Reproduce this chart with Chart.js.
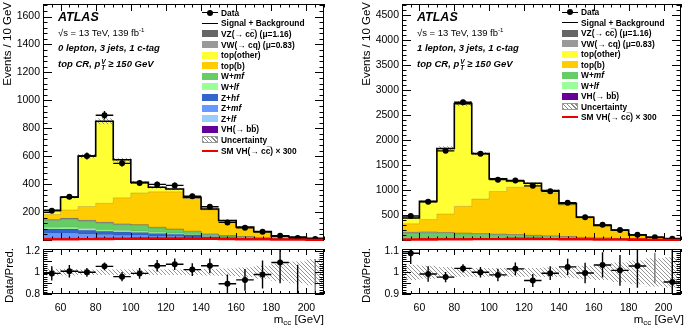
<!DOCTYPE html>
<html>
<head>
<meta charset="utf-8">
<script src="https://cdn.jsdelivr.net/npm/chart.js@4.4.1/dist/chart.umd.min.js"></script>
<style>
body { margin: 0; background: #fff; font-family: "Liberation Sans", Arial, sans-serif; }
#wrap { position: relative; width: 685px; height: 329px; overflow: hidden; }
canvas { position: absolute; }
.t { position: absolute; white-space: nowrap; color: #000; line-height: 1; }
.atlas { font-weight: bold; font-style: italic; font-size: 12.5px; }
.info { font-size: 9.5px; }
.cut { font-size: 9.5px; font-weight: bold; font-style: italic; }
.rot { position: absolute; transform: rotate(-90deg); transform-origin: 0 0; text-align: right;
       font-size: 11.5px; line-height: 12px; white-space: nowrap; }
.xt { font-size: 11.5px; }
sup { font-size: 65%; vertical-align: 4px; line-height: 0; }
sub { font-size: 70%; vertical-align: -2px; line-height: 0; }
.ss { display: inline-block; font-size: 6.5px; line-height: 6px; vertical-align: -3px; margin-left: 1px; }
.ss span { display: block; }
.lg { position: absolute; font-size: 8.4px; font-weight: bold; line-height: 10px; white-space: nowrap; }
</style>
</head>
<body>
<div id="wrap">
  <canvas id="l0main" width="330" height="245" style="left:0;top:0"></canvas>
  <canvas id="l0ratio" width="330" height="84" style="left:0;top:245px"></canvas>
  <canvas id="l1main" width="340" height="245" style="left:345px;top:0"></canvas>
  <canvas id="l1ratio" width="340" height="84" style="left:345px;top:245px"></canvas>

  <div class="t atlas" style="left:58px;top:10.5px">ATLAS</div>
  <div class="t info" style="left:58px;top:28px">√s = 13 TeV, 139 fb<sup>-1</sup></div>
  <div class="t cut" style="left:58px;top:43px">0 lepton, 3 jets, 1 c-tag</div>
  <div class="t cut" style="left:58px;top:58.5px">top CR, <i>p</i><span class="ss"><span>V</span><span>T</span></span> ≥ 150 GeV</div>

  <div class="t atlas" style="left:417px;top:10.5px">ATLAS</div>
  <div class="t info" style="left:417px;top:28px">√s = 13 TeV, 139 fb<sup>-1</sup></div>
  <div class="t cut" style="left:417px;top:43px">1 lepton, 3 jets, 1 c-tag</div>
  <div class="t cut" style="left:417px;top:58.5px">top CR, <i>p</i><span class="ss"><span>V</span><span>T</span></span> ≥ 150 GeV</div>

  <div class="rot" style="left:1px;top:122px;width:120px">Events / 10 GeV</div>
  <div class="rot" style="left:2.5px;top:328px;width:80px">Data/Pred.</div>
  <div class="rot" style="left:360px;top:122px;width:120px">Events / 10 GeV</div>
  <div class="rot" style="left:359.5px;top:328px;width:80px">Data/Pred.</div>

  <div class="t xt" style="right:361px;top:314px">m<sub>cc</sub> [GeV]</div>
  <div class="t xt" style="right:1px;top:314px">m<sub>cc</sub> [GeV]</div>
</div>

<script>
// bin edges of m_cc and axis ticks
const edges = [50, 60, 70, 80, 90, 100, 110, 120, 130, 140, 150, 160, 170, 180, 190, 200, 210];
const xTicks = [60, 80, 100, 120, 140, 160, 180, 200];

// 0 lepton, 3 jets, 1 c-tag, top CR
const l0Data    = [210, 309, 601, 893, 549, 409, 398, 391, 313, 238, 126, 87, 59, 31, 14, 7];
const l0DataErr = [14, 18, 25, 30, 23, 20, 20, 20, 18, 15, 11, 9, 8, 6, 4, 3];
const l0VHbb = [1, 1, 1, 1, 1, 1, 1, 1, 1, 1, 0, 0, 0, 0, 0, 0];
const l0Zlf  = [12, 12, 10, 9, 8, 8, 7, 6, 5, 3, 3, 2, 2, 1, 1, 0];
const l0Zmf  = [35, 35, 31, 28, 26, 24, 21, 18, 15, 10, 8, 7, 5, 4, 2, 1];
const l0Zhf  = [30, 30, 28, 25, 23, 21, 18, 17, 14, 9, 8, 6, 4, 3, 2, 2];
const l0Wlf  = [12, 13, 12, 11, 10, 9, 8, 7, 5, 4, 3, 2, 1, 1, 1, 0];
const l0Wmf  = [50, 59, 54, 48, 42, 42, 32, 26, 20, 13, 8, 6, 4, 3, 2, 2];
const l0VW   = [3, 3, 3, 3, 3, 3, 3, 2, 2, 2, 1, 1, 1, 1, 0, 0];
const l0VZ   = [2, 2, 2, 2, 2, 2, 2, 2, 1, 1, 1, 1, 0, 0, 0, 0];
const l0Topb = [37, 60, 99, 136, 187, 227, 253, 266, 235, 172, 103, 63, 40, 13, 10, 5];
const l0Topo = [30, 91, 361, 587, 273, 76, 33, 20, 7, 7, 5, 5, 3, 2, 4, 2];
const l0Sig  = [4, 5, 6, 7, 8, 9, 10, 10, 9, 8, 6, 5, 4, 3, 2, 1];
const l0Unc  = [0.03, 0.03, 0.025, 0.025, 0.025, 0.025, 0.025, 0.025, 0.025, 0.03, 0.035, 0.045, 0.06, 0.08, 0.1, 0.12];
const l0Ratio    = [0.99, 1.01, 1.0, 1.055, 0.96, 0.99, 1.06, 1.075, 1.025, 1.06, 0.895, 0.93, 0.98, 1.09, 0.6, 0.55];
const l0RatioErr = [0.066, 0.057, 0.04, 0.035, 0.043, 0.05, 0.053, 0.053, 0.058, 0.068, 0.085, 0.1, 0.13, 0.19, 0.47, 0.57];
const l0Faint    = [0, 0, 0, 0, 0, 0, 0, 0, 0, 0, 0, 0, 0, 0, 0, 1];
const l0YTicks = [200, 400, 600, 800, 1000, 1200, 1400, 1600];
const l0RTicks = [0.8, 0.9, 1, 1.1, 1.2];

// 1 lepton, 3 jets, 1 c-tag, top CR
const l1Data    = [480, 767, 1787, 2760, 1730, 1210, 1195, 1085, 978, 748, 456, 304, 198, 105, 54, 26];
const l1DataErr = [22, 28, 42, 52, 42, 35, 35, 33, 31, 27, 21, 17, 14, 10, 7, 5];
const l1VHbb = [3, 3, 3, 3, 3, 3, 3, 2, 2, 2, 1, 1, 1, 0, 0, 0];
const l1Wlf  = [25, 25, 23, 21, 19, 17, 15, 13, 11, 9, 7, 5, 4, 3, 2, 1];
const l1Wmf  = [110, 115, 108, 100, 92, 85, 78, 70, 60, 50, 40, 30, 22, 16, 10, 6];
const l1VW   = [12, 13, 12, 11, 10, 9, 8, 7, 6, 5, 4, 3, 2, 2, 1, 1];
const l1VZ   = [6, 6, 6, 6, 5, 5, 4, 4, 3, 3, 2, 2, 1, 1, 1, 0];
const l1Topb = [169, 248, 368, 534, 691, 853, 950, 978, 864, 631, 386, 244, 162, 76, 38, 17];
const l1Topo = [117, 365, 1313, 2058, 915, 253, 124, 63, 46, 30, 17, 9, 5, 4, 4, 2];
const l1Sig  = [8, 10, 12, 14, 16, 18, 20, 20, 18, 15, 12, 9, 7, 5, 3, 2];
const l1Unc  = [0.035, 0.03, 0.025, 0.02, 0.02, 0.02, 0.02, 0.02, 0.022, 0.025, 0.03, 0.035, 0.045, 0.055, 0.065, 0.07];
const l1Ratio    = [1.088, 0.992, 0.978, 1.018, 1.0, 0.988, 1.016, 0.962, 0.996, 1.025, 0.997, 1.034, 1.009, 1.029, 1.02, 0.955];
const l1RatioErr = [0.05, 0.036, 0.024, 0.019, 0.024, 0.029, 0.029, 0.03, 0.032, 0.037, 0.047, 0.058, 0.071, 0.1, 0.07, 0.25];
const l1Faint    = [0, 0, 0, 0, 0, 0, 0, 0, 0, 0, 0, 0, 0, 0, 1, 0];
const l1YTicks = [500, 1000, 1500, 2000, 2500, 3000, 3500, 4000, 4500];
const l1RTicks = [0.9, 0.95, 1, 1.05, 1.1];

const colors = {
  VZ: '#666666', VW: '#999999', topo: '#ffff33', topb: '#ffcc00',
  Wmf: '#66cc66', Wlf: '#99ff99', Zhf: '#3366cc', Zmf: '#6699ff', Zlf: '#99ccff',
  VHbb: '#660099', sig: '#ee0000', hatch: '#8a8a8a'
};
const labels = {
  VZ: 'VZ(→ cc&#773;) (μ=1.16)', VW: 'VW(→ cq) (μ=0.83)', topo: 'top(other)', topb: 'top(b)',
  Wmf: 'W+<i>mf</i>', Wlf: 'W+<i>lf</i>', Zhf: 'Z+<i>hf</i>', Zmf: 'Z+<i>mf</i>', Zlf: 'Z+<i>lf</i>',
  VHbb: 'VH(→ bb&#773;)'
};
const FONT = "'Liberation Sans', Arial, sans-serif";
Chart.defaults.font.family = FONT;
Chart.defaults.color = '#000';

const hatch = (() => {
  const c = document.createElement('canvas');
  c.width = 4; c.height = 4;
  const g = c.getContext('2d');
  g.strokeStyle = colors.hatch; g.lineWidth = 0.9;
  g.beginPath();
  g.moveTo(-1, -1); g.lineTo(5, 5);
  g.moveTo(-1, 3); g.lineTo(1, 5);
  g.moveTo(3, -1); g.lineTo(5, 1);
  g.stroke();
  return g.createPattern(c, 'repeat');
})();

// histogram outline: value of bin i held from edge i to edge i+1
function steps(vals) {
  return edges.map((e, i) => ({ x: e, y: vals[Math.max(i - 1, 0)] }));
}
function centers(vals) {
  return vals.map((v, i) => ({ x: (edges[i] + edges[i + 1]) / 2, y: v }));
}

// inward ROOT-style ticks and frame
const rootFrame = {
  id: 'rootFrame',
  afterDraw(chart, args, o) {
    const { ctx, chartArea: a, scales: { x, y } } = chart;
    ctx.save();
    ctx.strokeStyle = '#000';
    ctx.lineWidth = 1;
    ctx.beginPath();
    const nx = Math.round(o.xMajor / o.xMinor);
    for (let k = Math.ceil(x.min / o.xMinor); k * o.xMinor <= x.max; k++) {
      const px = Math.round(x.getPixelForValue(k * o.xMinor)) + 0.5;
      const len = k % nx === 0 ? o.xMaj : o.xMin;
      ctx.moveTo(px, a.bottom); ctx.lineTo(px, a.bottom - len);
      ctx.moveTo(px, a.top); ctx.lineTo(px, a.top + len);
    }
    const ny = Math.round(o.yMajor / o.yMinor);
    for (let k = Math.ceil(y.min / o.yMinor - 1e-6); k * o.yMinor <= y.max + 1e-9; k++) {
      const py = Math.round(y.getPixelForValue(k * o.yMinor)) + 0.5;
      const len = k % ny === 0 ? o.yMaj : o.yMin;
      ctx.moveTo(a.left, py); ctx.lineTo(a.left + len, py);
      ctx.moveTo(a.right, py); ctx.lineTo(a.right - len, py);
    }
    ctx.stroke();
    ctx.strokeRect(a.left + 0.5, a.top + 0.5, a.width - 1, a.height - 1);
    ctx.restore();
    // the signal line lies on the bottom frame: draw it over the frame
    chart.data.datasets.forEach((ds, i) => {
      if (!ds.onTop) return;
      ctx.save();
      ctx.beginPath();
      ctx.rect(a.left + 1, a.top, a.width - 2, a.height + 2);
      ctx.clip();
      chart.getDatasetMeta(i).controller.draw();
      ctx.restore();
    });
  }
};

// data error bars (bin width horizontally, read errors vertically)
const errorBars = {
  id: 'errorBars',
  afterDatasetsDraw(chart) {
    const { ctx, chartArea: a, scales: { x, y } } = chart;
    ctx.save();
    ctx.beginPath();
    ctx.rect(a.left, a.top, a.width, a.height);
    ctx.clip();
    chart.data.datasets.forEach(ds => {
      if (!ds.yErr) return;
      ds.data.forEach((p, i) => {
        const faint = ds.faint && ds.faint[i];
        ctx.strokeStyle = faint ? '#777' : '#000';
        ctx.lineWidth = 1.4;
        const px = x.getPixelForValue(p.x), py = y.getPixelForValue(p.y);
        ctx.beginPath();
        if (!faint) {
          ctx.moveTo(x.getPixelForValue(p.x - 5), py);
          ctx.lineTo(x.getPixelForValue(p.x + 5), py);
        }
        ctx.moveTo(px, y.getPixelForValue(p.y - ds.yErr[i]));
        ctx.lineTo(px, y.getPixelForValue(p.y + ds.yErr[i]));
        ctx.stroke();
      });
    });
    ctx.restore();
  }
};

function yAxis(min, max, ticks, width, size) {
  return {
    type: 'linear', min: min, max: max,
    grid: { display: false, drawTicks: false }, border: { display: false },
    ticks: { font: { size: size }, color: '#000', padding: 3, callback: v => String(v) },
    afterBuildTicks: s => { s.ticks = ticks.map(v => ({ value: v })); },
    afterFit: s => { s.width = width; s.paddingTop = 0; s.paddingBottom = 0; }
  };
}

function mainChart(id, comps, data, dataErr, sig, unc, yMax, yTicks, yW, padRight, yMinor, yMajor) {
  const total = data.map((_, i) => comps.reduce((s, c) => s + c.vals[i], 0));
  const datasets = comps.map((c, k) => ({
    type: 'line', data: steps(c.vals), stepped: 'after', stack: 'mc',
    fill: k === 0 ? 'origin' : '-1', backgroundColor: colors[c.key],
    borderColor: 'rgba(0,0,0,0.25)', borderWidth: 0.6, pointRadius: 0, order: 20 + k
  }));
  datasets.push({
    type: 'line', data: steps(total.map((t, i) => t * (1 - unc[i]))), stepped: 'after', stack: 'ulo',
    fill: false, borderWidth: 0, pointRadius: 0, order: 5
  });
  datasets.push({
    type: 'line', data: steps(total.map((t, i) => t * (1 + unc[i]))), stepped: 'after', stack: 'uhi',
    fill: '-1', backgroundColor: hatch, borderWidth: 0, pointRadius: 0, order: 4
  });
  datasets.push({
    type: 'line', data: steps(total), stepped: 'after', stack: 'tot',
    fill: false, borderColor: '#000', borderWidth: 1.6, pointRadius: 0, order: 3
  });
  datasets.push({
    type: 'line', data: steps(sig), stepped: 'after', stack: 'sig', onTop: true,
    fill: false, borderColor: colors.sig, borderWidth: 2.3, pointRadius: 0, order: 2
  });
  datasets.push({
    type: 'scatter', data: centers(data), stack: 'data', yErr: dataErr,
    pointRadius: 3, backgroundColor: '#000', borderWidth: 0, order: 0
  });
  return new Chart(document.getElementById(id), {
    type: 'line',
    data: { datasets: datasets },
    options: {
      responsive: false, animation: false, events: [],
      layout: { padding: { top: 1, right: padRight, bottom: 5, left: 0 } },
      plugins: {
        legend: { display: false }, tooltip: { enabled: false },
        rootFrame: { xMinor: 5, xMajor: 20, xMaj: 7, xMin: 3.5, yMinor: yMinor, yMajor: yMajor, yMaj: 9, yMin: 4.5 }
      },
      scales: {
        x: { type: 'linear', min: 50, max: 210, display: false },
        y: Object.assign(yAxis(0, yMax, yTicks, yW, 10.5), { stacked: true })
      }
    },
    plugins: [rootFrame, errorBars]
  });
}

function ratioChart(id, ratio, ratioErr, faint, unc, yMin, yMax, yTicks, yW, padRight, yMinor, yMajor) {
  return new Chart(document.getElementById(id), {
    type: 'line',
    data: {
      datasets: [
        { data: steps(unc.map(u => 1 - u)), stepped: 'after', stack: 'lo', fill: false,
          borderWidth: 0, pointRadius: 0, order: 5 },
        { data: steps(unc.map(u => 1 + u)), stepped: 'after', stack: 'hi', fill: '-1',
          backgroundColor: hatch, borderWidth: 0, pointRadius: 0, order: 4 },
        { type: 'scatter', data: centers(ratio), stack: 'data', yErr: ratioErr, faint: faint,
          pointRadius: c => faint[c.dataIndex] ? 0 : 3, backgroundColor: '#000', borderWidth: 0, order: 0 }
      ]
    },
    options: {
      responsive: false, animation: false, events: [],
      layout: { padding: { top: 2, right: padRight, bottom: 0, left: 0 } },
      plugins: {
        legend: { display: false }, tooltip: { enabled: false },
        rootFrame: { xMinor: 5, xMajor: 20, xMaj: 6, xMin: 3, yMinor: yMinor, yMajor: yMajor, yMaj: 9, yMin: 4.5 }
      },
      scales: {
        x: {
          type: 'linear', min: 50, max: 210,
          grid: { display: false, drawTicks: false }, border: { display: false },
          ticks: { font: { size: 10.5 }, color: '#000', padding: 8, autoSkip: false, maxRotation: 0,
                   callback: v => String(v) },
          afterBuildTicks: s => { s.ticks = xTicks.map(v => ({ value: v })); },
          afterFit: s => { s.height = 35; s.paddingLeft = 0; s.paddingRight = 0; }
        },
        y: yAxis(yMin, yMax, yTicks, yW, 10.5)
      }
    },
    plugins: [rootFrame, errorBars]
  });
}

function buildLegend(x0, y0, dy, keys) {
  const wrap = document.getElementById('wrap');
  const rows = [{ kind: 'data', label: 'Data' }, { kind: 'line', color: '#000', w: 1, label: 'Signal + Background' }]
    .concat(keys.map(k => ({ kind: 'box', color: colors[k], label: labels[k] })))
    .concat([{ kind: 'hatch', label: 'Uncertainty' },
             { kind: 'line', color: colors.sig, w: 2, label: 'SM VH(→ cc&#773;) × 300' }]);
  rows.forEach((r, i) => {
    const yc = y0 + i * dy;
    const sym = document.createElement('div');
    sym.style.cssText = `position:absolute;left:${x0}px;top:${yc - 3.5}px;width:16px;height:7px;`;
    if (r.kind === 'box') {
      sym.style.background = r.color;
    } else if (r.kind === 'hatch') {
      sym.style.boxSizing = 'border-box';
      sym.style.border = '1px solid #999';
      sym.style.background = 'repeating-linear-gradient(45deg, #888 0 1px, #fff 1px 3px)';
    } else if (r.kind === 'line') {
      sym.innerHTML = `<div style="position:absolute;left:0;width:16px;top:${3.5 - r.w / 2}px;height:${r.w}px;background:${r.color}"></div>`;
    } else {
      sym.innerHTML = '<div style="position:absolute;left:0;width:16px;top:3px;height:1.2px;background:#000"></div>' +
                      '<div style="position:absolute;left:5px;top:0.5px;width:6px;height:6px;border-radius:50%;background:#000"></div>';
    }
    wrap.appendChild(sym);
    const txt = document.createElement('div');
    txt.className = 'lg';
    txt.style.left = (x0 + 19) + 'px';
    txt.style.top = (yc - 5) + 'px';
    txt.innerHTML = r.label;
    wrap.appendChild(txt);
  });
}

const l0Comps = [
  { key: 'VHbb', vals: l0VHbb }, { key: 'Zlf', vals: l0Zlf }, { key: 'Zmf', vals: l0Zmf },
  { key: 'Zhf', vals: l0Zhf }, { key: 'Wlf', vals: l0Wlf }, { key: 'Wmf', vals: l0Wmf },
  { key: 'VW', vals: l0VW }, { key: 'VZ', vals: l0VZ }, { key: 'topb', vals: l0Topb },
  { key: 'topo', vals: l0Topo }
];
const l1Comps = [
  { key: 'VHbb', vals: l1VHbb }, { key: 'Wlf', vals: l1Wlf }, { key: 'Wmf', vals: l1Wmf },
  { key: 'VW', vals: l1VW }, { key: 'VZ', vals: l1VZ }, { key: 'topb', vals: l1Topb },
  { key: 'topo', vals: l1Topo }
];

mainChart('l0main', l0Comps, l0Data, l0DataErr, l0Sig, l0Unc, 1690, l0YTicks, 43, 6, 40, 200);
ratioChart('l0ratio', l0Ratio, l0RatioErr, l0Faint, l0Unc, 0.8, 1.215, l0RTicks, 43, 6, 0.02, 0.1);
mainChart('l1main', l1Comps, l1Data, l1DataErr, l1Sig, l1Unc, 4730, l1YTicks, 57, 1, 100, 500);
ratioChart('l1ratio', l1Ratio, l1RatioErr, l1Faint, l1Unc, 0.9, 1.1075, l1RTicks, 57, 1, 0.01, 0.05);

buildLegend(202, 12.7, 10.6, ['VZ', 'VW', 'topo', 'topb', 'Wmf', 'Wlf', 'Zhf', 'Zmf', 'Zlf', 'VHbb']);
buildLegend(562, 12, 10.5, ['VZ', 'VW', 'topo', 'topb', 'Wmf', 'Wlf', 'VHbb']);
</script>
</body>
</html>
